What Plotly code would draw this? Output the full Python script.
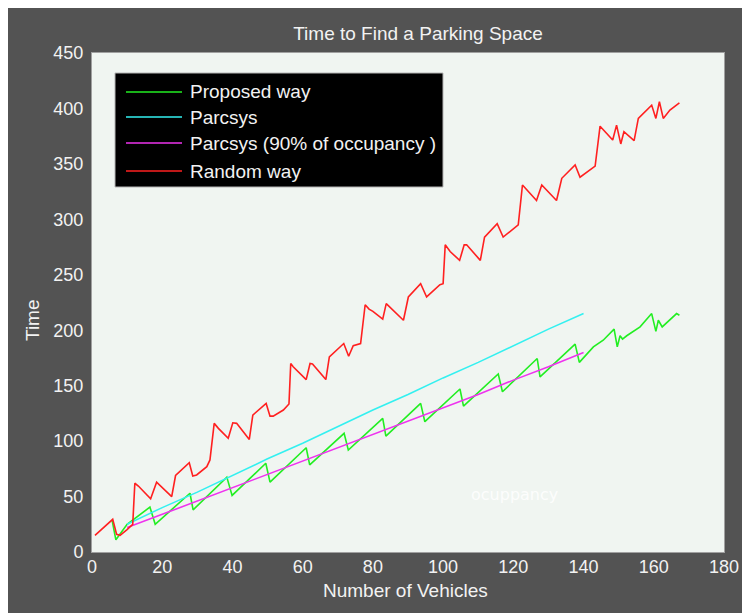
import plotly.graph_objects as go

# ---- data -------------------------------------------------------------
proposed_x = [5.7, 6.8, 10, 16.5, 18, 27.9, 28.8, 38.4, 39.9, 49.5, 50.7, 61, 62,
              71.8, 73, 82.8, 83.7, 93.6, 94.8, 104.8, 105.8, 115.7, 116.9, 126.8,
              127.6, 137.6, 138.8, 142.8, 145.6, 148.7, 149.6, 150.4, 151.1, 152.3,
              156.1, 159.4, 160.6, 161.3, 162.4, 166.5, 167.3]
proposed_y = [29, 11, 25, 40.5, 25, 53, 38, 67.5, 51, 80, 63, 94, 78.5,
              107, 92, 120.5, 104.5, 134, 117.5, 147, 131.5, 160.5, 144.5, 174.5,
              158, 187.5, 171, 185, 191, 201, 185, 195, 192, 195,
              203, 215, 199, 209, 203, 215, 213.5]

parcsys_x = [10, 20, 30, 40, 50, 60, 70, 80, 90, 100, 110, 120, 130, 140]
parcsys_y = [25, 40, 54, 69, 84, 98, 113, 128, 142, 157, 171, 186, 201, 215]

parcsys90_x = [10, 20, 30, 40, 50, 60, 70, 80, 90, 100, 110, 120, 130, 140]
parcsys90_y = [22, 34, 46, 58, 70, 82, 94, 106, 118, 130, 142, 155, 167, 180]

random_x = [0.85, 3.7, 5.9, 7, 8, 9.9, 11.6, 12.2, 13.2, 16.7, 18.4, 22.7, 23.8,
            27.7, 28.7, 29.8, 32.7, 33.6, 34.8, 36, 38.8, 40.1, 41.2, 44.8, 45.8,
            49.6, 50.7, 51.6, 54.5, 56.1, 56.6, 57.3, 61, 62.1, 62.8, 66.6, 67.6,
            71.7, 73.1, 74.4, 76.5, 77.8, 78.9, 80.0, 82.8, 83.8, 88.7, 90.1, 93.6,
            95.3, 99.1, 100.0, 100.6, 102, 104.7, 106, 106.7, 110.6, 111.8, 115.4,
            117.1, 121.4, 122.6, 126.6, 128.1, 132.3, 133.8, 137.6, 139, 143.3,
            144.7, 148.3, 149.4, 150.6, 151.5, 154.4, 155.6, 159.4, 160.6, 161.6,
            162.7, 164.6, 167.3]
random_y = [15, 23, 29.5, 16, 15, 20, 25, 62, 59.5, 48, 63, 50, 69,
            80.5, 68.5, 69.5, 77, 83, 116, 111.5, 102.5, 116.5, 116, 101.5, 123.5,
            134, 122.5, 122.5, 128, 133.5, 170, 167, 155.5, 170, 169.5, 155.5, 176,
            188, 176.5, 186, 188, 223, 219, 217, 210, 224, 209, 230, 242,
            230, 241, 242, 277, 271, 263, 277, 277, 263, 284, 296,
            284, 295, 331, 317, 331, 317, 337, 349, 338, 348,
            384, 371.5, 385, 368, 379, 371, 391, 403, 391, 406,
            391, 398.5, 405]

series_names = ["Proposed way", "Parcsys", "Parcsys (90% of occupancy )", "Random way"]
series_colors = ["#22ee22", "#33f0f0", "#ee33ee", "#ff2020"]

x_ticks = [0, 20, 40, 60, 80, 100, 120, 140, 160, 180]
y_ticks = [0, 50, 100, 150, 200, 250, 300, 350, 400, 450]

# ---- styling ------------------------------------------------------------
BG = "#535353"
PLOT_BG = "#f0f5f1"
TEXT = "#f2f2f2"
FONT = "Liberation Sans, Arial, sans-serif"
W, H = 742, 613

fig = go.Figure()
all_series = [(proposed_x, proposed_y), (parcsys_x, parcsys_y),
              (parcsys90_x, parcsys90_y), (random_x, random_y)]
for (xs, ys), name, color in zip(all_series, series_names, series_colors):
    fig.add_trace(go.Scatter(x=xs, y=ys, mode="lines", name=name,
                             line=dict(color=color, width=1.6),
                             showlegend=False))

# faint label inside the axes
fig.add_annotation(x=120.2, y=52.3, xref="x", yref="y", text="ocuppancy",
                   showarrow=False, font=dict(family="DejaVu Sans", size=16,
                                              color="rgba(255,255,255,0.85)"))

# legend box drawn by hand (black panel, long line samples)
L, R, T, B = 92, 724, 53, 552   # plot area in pixels
def px(xp):
    return (xp - L) / (R - L)
def py(yp):
    return (B - yp) / (B - T)

shapes = [
    # white strips on the top and left edges of the figure
    dict(type="rect", xref="paper", yref="paper", x0=px(0), x1=px(W),
         y0=py(8), y1=py(-5), fillcolor="white", line_width=0, layer="below"),
    dict(type="rect", xref="paper", yref="paper", x0=px(-5), x1=px(8),
         y0=py(H + 7), y1=py(-5), fillcolor="white", line_width=0, layer="below"),
    # legend panel
    dict(type="rect", xref="paper", yref="paper", x0=px(115), x1=px(443),
         y0=py(187), y1=py(73), fillcolor="black",
         line=dict(color="#b4b4b4", width=1)),
]
legend_rows = [92, 117, 143, 171]
for row, name, color in zip(legend_rows, series_names, series_colors):
    shapes.append(dict(type="line", xref="paper", yref="paper",
                       x0=px(126), x1=px(182), y0=py(row), y1=py(row),
                       line=dict(color=color, width=1.6)))
    fig.add_annotation(x=px(188), y=py(row), xref="paper", yref="paper",
                       text=name, showarrow=False, xanchor="left", yanchor="middle",
                       font=dict(family=FONT, size=19, color=TEXT))

# axis titles
fig.add_annotation(x=px(32), y=py(320), xref="paper", yref="paper", text="Time",
                   textangle=-90, showarrow=False, xanchor="center", yanchor="middle",
                   font=dict(family=FONT, size=19, color=TEXT))
fig.add_annotation(x=px(405), y=py(590), xref="paper", yref="paper",
                   text="Number of Vehicles", showarrow=False,
                   xanchor="center", yanchor="middle",
                   font=dict(family=FONT, size=19, color=TEXT))

fig.update_layout(
    width=W, height=H,
    margin=dict(l=L, r=W - R, t=T, b=H - B, autoexpand=False),
    paper_bgcolor=BG, plot_bgcolor=PLOT_BG,
    shapes=shapes,
    font=dict(family=FONT, size=18, color=TEXT),
    title=dict(text="Time to Find a Parking Space", xref="container",
               x=418 / W, xanchor="center",
               y=1 - 33 / H, yanchor="middle",
               font=dict(family=FONT, size=19, color=TEXT)),
    xaxis=dict(range=[0, 180], tickvals=x_ticks, ticks="", showgrid=False,
               zeroline=False, showline=True, linecolor="#a0a0a0", linewidth=1,
               mirror=True, ticklabelstandoff=-2, automargin=False),
    yaxis=dict(range=[0, 450], tickvals=y_ticks, ticks="", showgrid=False,
               zeroline=False, showline=True, linecolor="#a0a0a0", linewidth=1,
               mirror=True, ticklabelstandoff=4, automargin=False),
)

fig.write_html("out.html")
